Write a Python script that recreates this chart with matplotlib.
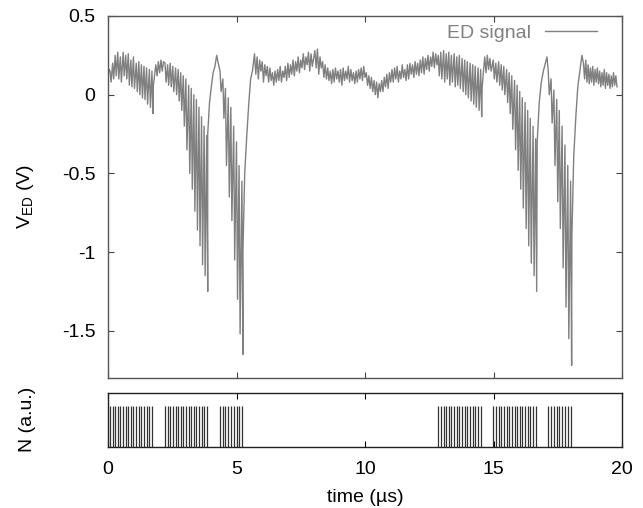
import numpy as np
import matplotlib
matplotlib.use("Agg")
import matplotlib.pyplot as plt

plt.rcParams['font.family'] = ['Liberation Sans', 'DejaVu Sans']
plt.rcParams['mathtext.default'] = 'regular'

# ---------------- data ----------------
# pulse times (microseconds)
pulses_g1 = [0.08, 0.18, 0.28, 0.38, 0.48, 0.59, 0.69, 0.79, 0.89, 0.99, 1.10, 1.20, 1.30, 1.40, 1.50, 1.61, 1.71]
pulses_g2 = [2.22, 2.32, 2.42, 2.52, 2.63, 2.73, 2.83, 2.93, 3.03, 3.14, 3.24, 3.34, 3.44, 3.54, 3.64, 3.74, 3.84]
pulses_g3 = [4.36, 4.47, 4.57, 4.68, 4.78, 4.89, 5.00, 5.10, 5.21]
pulses_g4 = [12.85, 12.95, 13.06, 13.16, 13.26, 13.36, 13.47, 13.57, 13.67, 13.78, 13.88, 13.98, 14.09, 14.19, 14.29, 14.40, 14.50]
pulses_g5 = [14.99, 15.09, 15.20, 15.30, 15.40, 15.51, 15.61, 15.71, 15.82, 15.92, 16.02, 16.12, 16.23, 16.33, 16.43, 16.54, 16.64]
pulses_g6 = [17.13, 17.24, 17.35, 17.46, 17.56, 17.67, 17.78, 17.89, 18.00]
pulse_height = 0.75

# ED signal during pulse groups: value just before each pulse, and spike minimum
g1_hi = [0.15, 0.20, 0.25, 0.27, 0.24, 0.27, 0.25, 0.26, 0.22, 0.24, 0.20, 0.21, 0.19, 0.18, 0.17, 0.16, 0.15]
g1_lo = [0.08, 0.10, 0.12, 0.10, 0.08, 0.12, 0.10, 0.06, 0.05, 0.04, 0.02, 0.00, -0.02, -0.03, -0.06, -0.08, -0.12]
g2_hi = [0.20, 0.19, 0.20, 0.18, 0.17, 0.16, 0.14, 0.12, 0.10, 0.06, 0.04, 0.00, -0.03, -0.08, -0.14, -0.20, -0.26]
g2_lo = [0.08, 0.06, 0.05, 0.02, 0.00, -0.04, -0.10, -0.20, -0.35, -0.50, -0.60, -0.74, -0.86, -0.96, -1.08, -1.15, -1.25]
g3_hi = [0.15, 0.10, 0.04, -0.02, -0.08, -0.20, -0.30, -0.45, -0.55]
g3_lo = [0.02, -0.15, -0.45, -0.65, -0.80, -1.05, -1.30, -1.52, -1.65]
g4_hi = [0.25, 0.27, 0.28, 0.26, 0.27, 0.25, 0.26, 0.24, 0.25, 0.23, 0.22, 0.21, 0.20, 0.19, 0.18, 0.17, 0.16]
g4_lo = [0.12, 0.10, 0.08, 0.10, 0.06, 0.08, 0.05, 0.06, 0.04, 0.02, 0.00, -0.02, -0.04, -0.06, -0.08, -0.10, -0.14]
g5_hi = [0.22, 0.20, 0.21, 0.19, 0.18, 0.16, 0.14, 0.12, 0.09, 0.06, 0.02, -0.02, -0.05, -0.10, -0.15, -0.20, -0.28]
g5_lo = [0.10, 0.08, 0.06, 0.03, 0.00, -0.05, -0.12, -0.22, -0.35, -0.48, -0.60, -0.72, -0.85, -0.96, -1.07, -1.15, -1.25]
g6_hi = [0.15, 0.10, 0.03, -0.03, -0.10, -0.20, -0.32, -0.45, -0.55]
g6_lo = [0.00, -0.18, -0.45, -0.68, -0.85, -1.10, -1.35, -1.55, -1.72]

# ED signal between pulse groups (sampled traces)
start_t = [0.0, 0.04]
start_v = [0.12, 0.16]
gap1_t = [1.76, 1.81, 1.86, 1.91, 1.96, 2.01, 2.06, 2.11, 2.16]
gap1_v = [0.05, 0.12, 0.19, 0.12, 0.21, 0.14, 0.22, 0.15, 0.21]
rec1_t = [3.88, 3.95, 4.02, 4.09, 4.16, 4.23, 4.29]
rec1_v = [-0.25, -0.05, 0.05, 0.14, 0.18, 0.25, 0.20]
rec2_t = [5.25, 5.32, 5.40, 5.48, 5.55, 5.62]
rec2_v = [-1.00, -0.50, -0.26, -0.05, 0.10, 0.15]
mid_t0 = 5.70
mid_dt = 0.05
mid_v = [0.26, 0.13, 0.24, 0.10, 0.22, 0.15, 0.21, 0.08, 0.19, 0.12, 0.18,
         0.08, 0.17, 0.09, 0.14, 0.06, 0.15, 0.08, 0.16, 0.09, 0.18, 0.08, 0.15, 0.11, 0.18, 0.09, 0.20,
         0.11, 0.19, 0.13, 0.22, 0.12, 0.21, 0.15, 0.24, 0.14, 0.22, 0.17, 0.26, 0.16, 0.24, 0.19, 0.27, 0.15, 0.26, 0.18, 0.23,
         0.28, 0.17, 0.29, 0.13, 0.24, 0.17, 0.21, 0.11, 0.19, 0.10,
         0.17, 0.09, 0.15, 0.07, 0.16, 0.08, 0.17, 0.10, 0.15, 0.08, 0.16, 0.06, 0.17, 0.09, 0.15,
         0.10, 0.18, 0.08, 0.16, 0.09, 0.14, 0.07, 0.15, 0.08, 0.16, 0.10, 0.17, 0.09, 0.18, 0.11,
         0.14, 0.06, 0.12, 0.04, 0.11, 0.02, 0.09, 0.00, 0.08, -0.02, 0.07, 0.02, 0.09, 0.02, 0.11, 0.05, 0.13, 0.04, 0.14, 0.08,
         0.16, 0.08, 0.17, 0.10, 0.18, 0.08, 0.15, 0.10, 0.19, 0.11, 0.16, 0.09, 0.19, 0.10, 0.20, 0.13, 0.19, 0.11, 0.21, 0.13,
         0.20, 0.12, 0.22, 0.14, 0.24, 0.13, 0.23, 0.16, 0.25, 0.15, 0.24, 0.18, 0.27, 0.17, 0.26, 0.19]
gap2_t = [14.56, 14.61, 14.66, 14.71, 14.76, 14.81, 14.86, 14.91]
gap2_v = [0.05, 0.15, 0.24, 0.14, 0.25, 0.16, 0.23, 0.15]
rec3_t = [16.70, 16.78, 16.86, 16.94, 17.02, 17.08]
rec3_v = [-0.30, -0.05, 0.08, 0.15, 0.20, 0.24]
rec4_t = [18.05, 18.12, 18.20, 18.28, 18.36, 18.44]
rec4_v = [-0.90, -0.40, -0.15, 0.05, 0.15, 0.25]
tail_t0 = 18.50
tail_dt = 0.045
tail_v = [0.20, 0.10, 0.22, 0.08, 0.19, 0.07, 0.17, 0.08, 0.18, 0.06, 0.16, 0.08, 0.17, 0.07, 0.15,
          0.05, 0.14, 0.06, 0.16, 0.04, 0.14, 0.06, 0.13, 0.04, 0.12, 0.05, 0.14, 0.06, 0.12, 0.05]

# ---------------- build trace ----------------
spike_offset = 0.04


def pulse_trace(tp, hi, lo):
    t, v = [], []
    for p, h, l in zip(tp, hi, lo):
        t += [p, p + spike_offset]
        v += [h, l]
    return t, v


pieces = [
    (start_t, start_v),
    pulse_trace(pulses_g1, g1_hi, g1_lo),
    (gap1_t, gap1_v),
    pulse_trace(pulses_g2, g2_hi, g2_lo),
    (rec1_t, rec1_v),
    pulse_trace(pulses_g3, g3_hi, g3_lo),
    (rec2_t, rec2_v),
    (list(mid_t0 + mid_dt * np.arange(len(mid_v))), mid_v),
    pulse_trace(pulses_g4, g4_hi, g4_lo),
    (gap2_t, gap2_v),
    pulse_trace(pulses_g5, g5_hi, g5_lo),
    (rec3_t, rec3_v),
    pulse_trace(pulses_g6, g6_hi, g6_lo),
    (rec4_t, rec4_v),
    (list(tail_t0 + tail_dt * np.arange(len(tail_v))), tail_v),
]
sig_t = np.concatenate([np.asarray(p[0], float) for p in pieces])
sig_v = np.concatenate([np.asarray(p[1], float) for p in pieces])
all_pulses = pulses_g1 + pulses_g2 + pulses_g3 + pulses_g4 + pulses_g5 + pulses_g6

# ---------------- plot ----------------
W, H = 643, 508
fig = plt.figure(figsize=(W / 100, H / 100), dpi=100)
ax1 = fig.add_axes([108 / W, 1 - 378 / H, 514 / W, 362 / H])
ax2 = fig.add_axes([108 / W, 1 - 446.7 / H, 514 / W, 54 / H])

fs = 14
ax1.plot(sig_t, sig_v, color='#808080', lw=1.0, label='ED signal')
ax1.set_xlim(0, 20)
ax1.set_ylim(-1.8, 0.5)
ax1.set_yticks([0.5, 0, -0.5, -1, -1.5])
ax1.set_yticklabels(['0.5', '0', '-0.5', '-1', '-1.5'])
ax1.set_xticks([0, 5, 10, 15, 20])
ax1.tick_params(axis='both', direction='in', top=True, right=True, labelbottom=False,
                labelsize=fs, length=4, width=0.8, color='#444444')
ax1.tick_params(axis='y', pad=9)
for s in ax1.spines.values():
    s.set_color('#555555')
    s.set_linewidth(1.0)
ax1.set_ylabel('V$_{ED}$ (V)', fontsize=fs)
leg = ax1.legend(loc='upper right', bbox_to_anchor=(1 - 25 / 514, 1 - 8 / 362),
                 frameon=False, markerfirst=False, fontsize=fs,
                 handlelength=2.7, handletextpad=0.67, borderaxespad=0, borderpad=0,
                 labelcolor='#808080')

ax2.vlines(all_pulses, 0, pulse_height, color='#333333', lw=0.9)
ax2.set_xlim(0, 20)
ax2.set_ylim(0, 1)
ax2.set_yticks([])
ax2.set_xticks([0, 5, 10, 15, 20])
ax2.tick_params(axis='x', direction='in', top=True, labelsize=fs, length=4, width=0.8, pad=10)
for s in ax2.spines.values():
    s.set_color('#222222')
    s.set_linewidth(1.0)
ax2.set_xlabel('time (µs)', fontsize=fs, labelpad=8)
ax2.set_ylabel('N (a.u.)', fontsize=fs)

ax1.yaxis.set_label_coords(-0.14, 0.5)
ax2.yaxis.set_label_coords(-0.14, 0.5)

fig.savefig('out.png', dpi=100)
